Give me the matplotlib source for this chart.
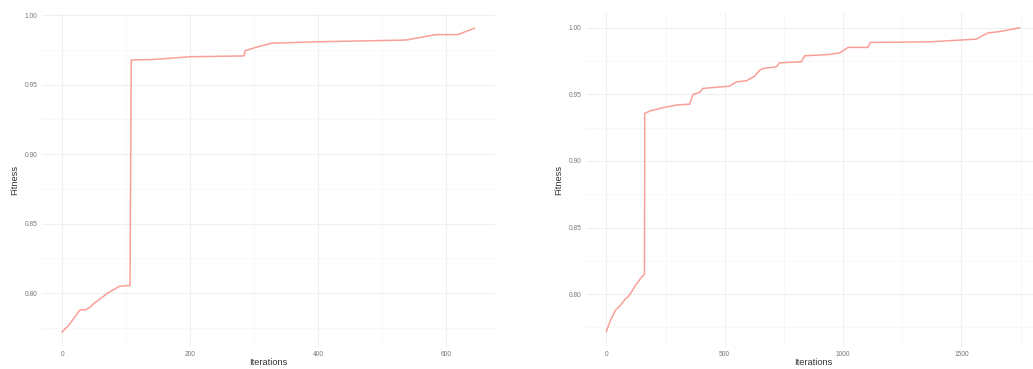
import numpy as np
import matplotlib.pyplot as plt
from matplotlib.ticker import MultipleLocator

# best fitness per iteration, run 1
iter_a = [0, 10, 28, 36, 44, 49, 72, 90, 105, 106, 108, 142, 199, 284, 286, 303, 327, 402, 537, 584, 618, 644]
fit_a = [0.7722, 0.7768, 0.7880, 0.7880, 0.7900, 0.7924, 0.8003, 0.8050, 0.8055, 0.8055, 0.9677, 0.9680,
         0.9700, 0.9706, 0.9744, 0.9768, 0.9797, 0.9808, 0.9820, 0.9859, 0.9859, 0.9905]

# best fitness per iteration, run 2
iter_b = [4, 18, 39, 60, 82, 93, 124, 145, 161, 162, 183, 239, 296, 352, 366, 394, 408, 521, 549, 591,
          627, 648, 662, 718, 732, 824, 838, 943, 986, 1021, 1105, 1115, 1366, 1563, 1612, 1662, 1746]
fit_b = [0.7720, 0.7805, 0.7880, 0.7917, 0.7968, 0.7980, 0.8068, 0.8118, 0.8150, 0.9357, 0.9375, 0.9400,
         0.9420, 0.9427, 0.9500, 0.9515, 0.9545, 0.9562, 0.9594, 0.9602, 0.9637, 0.9682, 0.9695, 0.9707,
         0.9737, 0.9745, 0.9790, 0.9800, 0.9812, 0.9853, 0.9853, 0.9890, 0.9895, 0.9915, 0.9962, 0.9972, 1.0000]

plt.rcParams['font.family'] = ['Liberation Sans', 'DejaVu Sans']

fig = plt.figure(figsize=(10.33, 3.69), dpi=100)
ax1 = fig.add_axes([0.0402, 0.0596, 0.439, 0.905])
ax2 = fig.add_axes([0.567, 0.0607, 0.440, 0.905])


def style(ax, x, y, xmaj, ymaj):
    ax.plot(x, y, color='#F8766D', lw=1.1, alpha=0.7)
    # ggplot-like 5% padding on both axes
    xr = max(x) - min(x)
    yr = max(y) - min(y)
    ax.set_xlim(min(x) - 0.05 * xr, max(x) + 0.05 * xr)
    ax.set_ylim(min(y) - 0.05 * yr, max(y) + 0.05 * yr)
    ax.xaxis.set_major_locator(MultipleLocator(xmaj))
    ax.xaxis.set_minor_locator(MultipleLocator(xmaj / 2))
    ax.yaxis.set_major_locator(MultipleLocator(ymaj))
    ax.yaxis.set_minor_locator(MultipleLocator(ymaj / 2))
    ax.yaxis.set_major_formatter(lambda v, p: '%.2f' % v)
    ax.grid(which='major', color='#f0f0f0', lw=0.8)
    ax.grid(which='minor', color='#f6f6f6', lw=0.5)
    ax.set_axisbelow(True)
    for s in ax.spines.values():
        s.set_visible(False)
    ax.tick_params(which='both', length=0, labelsize=4.8, labelcolor='#777777', pad=3)
    ax.set_xlabel('Iterations', fontsize=6.7, color='#333333', labelpad=0)
    ax.set_ylabel('Fitness', fontsize=6.7, color='#333333', labelpad=4)


style(ax1, iter_a, fit_a, 200, 0.05)
style(ax2, [0] + iter_b[1:], fit_b, 500, 0.05)

fig.savefig('out.png', dpi=100)
